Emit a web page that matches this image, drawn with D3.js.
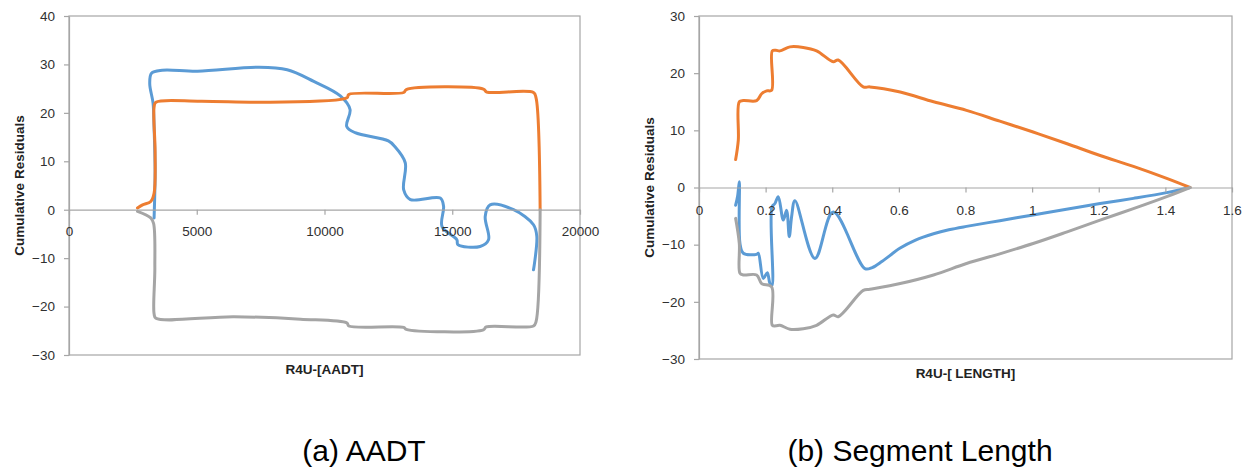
<!DOCTYPE html>
<html>
<head>
<meta charset="utf-8">
<script src="https://cdn.jsdelivr.net/npm/d3@7"></script>
<style>
  body { margin: 0; background: #fff; }
  svg { display: block; }
</style>
</head>
<body>
<div id="my_cure"></div>
<script>

// ======================= //
// DATA
// ======================= //

// (a) AADT panel : [AADT, cumulative residual]
var aadtBlue = [[3330,-1.7],[3370,8],[3330,17],[3290,22],[3160,26],[3230,28.2],[3650,28.8],[5030,28.6],[7370,29.4],[8540,28.9],[9580,26.5],[10620,23.5],[11000,20.7],[10870,17.2],[11200,15.9],[12500,14.2],[12740,13.1],[13160,9.7],[13100,4.1],[13360,2.1],[14530,2.4],[14660,0.7],[14600,-3.5],[15180,-6.2],[15220,-7.2],[16090,-7.6],[16420,-6.2],[16290,-1.4],[16480,1.0],[17400,0],[18180,-3.1],[18310,-5.5],[18180,-12.4]]
var aadtOrange = [[2680,0.35],[2880,1.0],[3200,1.7],[3330,3.4],[3370,12],[3330,21.2],[3400,22.2],[5160,22.4],[7760,22.2],[10880,23.1],[10950,23.8],[13100,24.2],[13200,24.8],[16220,24.9],[16350,24.3],[18180,24.2],[18280,23.1],[18440,0]]
var aadtGray = [[2680,-0.35],[3200,-1.7],[3310,-2.8],[3360,-12],[3330,-21.5],[3400,-22.4],[6460,-22.1],[9060,-22.6],[10880,-23.4],[10950,-24.0],[13100,-24.3],[13200,-24.7],[16220,-24.8],[16330,-24.2],[18180,-24.0],[18280,-23.1],[18440,0]]

// (b) Segment length panel : [length, cumulative residual]
var lenBlue = [[0.110,-3.1],[0.116,-1.5],[0.121,1.0],[0.123,-9.8],[0.133,-11.5],[0.173,-11.7],[0.178,-11.5],[0.193,-15.9],[0.205,-14.9],[0.213,-16.8],[0.219,-17.1],[0.219,-3.4],[0.228,-2.8],[0.238,-1.6],[0.253,-5.7],[0.263,-4.0],[0.271,-8.6],[0.278,-5.1],[0.288,-2.3],[0.348,-12.4],[0.403,-4.3],[0.498,-14.2],[0.52,-14.0],[0.55,-12.9],[0.604,-10.6],[0.65,-9.2],[0.704,-8.1],[0.75,-7.4],[0.803,-6.8],[0.903,-5.8],[1.003,-4.8],[1.103,-3.8],[1.204,-2.8],[1.304,-1.9],[1.404,-0.9],[1.474,0]]
var lenOrange = [[0.110,4.9],[0.118,8.3],[0.121,15.0],[0.133,15.2],[0.173,15.2],[0.188,16.4],[0.203,16.9],[0.218,17.0],[0.220,23.9],[0.231,24.0],[0.243,23.9],[0.273,24.6],[0.313,24.5],[0.353,23.9],[0.403,22.0],[0.418,22.3],[0.493,17.6],[0.513,17.6],[0.604,16.7],[0.704,15.0],[0.803,13.5],[0.903,11.6],[1.003,9.7],[1.103,7.7],[1.204,5.6],[1.304,3.7],[1.404,1.6],[1.474,0]]
var lenGray = [[0.110,-5.4],[0.121,-9.8],[0.123,-15.0],[0.133,-15.3],[0.173,-15.3],[0.188,-16.8],[0.218,-17.4],[0.220,-24.1],[0.231,-24.2],[0.243,-24.1],[0.273,-24.8],[0.313,-24.7],[0.353,-24.1],[0.403,-22.3],[0.418,-22.6],[0.493,-18.0],[0.513,-17.8],[0.604,-16.8],[0.704,-15.3],[0.803,-13.3],[0.903,-11.6],[1.003,-9.8],[1.103,-7.8],[1.204,-5.7],[1.304,-3.7],[1.404,-1.6],[1.474,0]]

// tick labels
var aadtXTicks = [0, 5000, 10000, 15000, 20000]
var aadtYTicks = [-30, -20, -10, 0, 10, 20, 30, 40]
var lenXTicks = [0, 0.2, 0.4, 0.6, 0.8, 1, 1.2, 1.4, 1.6]
var lenYTicks = [-30, -20, -10, 0, 10, 20, 30]

var seriesColors = ["#5b9bd5", "#ed7d31", "#a5a5a5"]


// ======================= //
// SVG AREA
// ======================= //

var svg = d3.select("#my_cure")
  .append("svg")
    .attr("width", 1249)
    .attr("height", 468)


// ======================= //
// ONE PANEL
// ======================= //

function plotPanel(p){

  var x = d3.scaleLinear().domain(p.xDomain).range([p.left, p.right])
  var y = d3.scaleLinear().domain(p.yDomain).range([p.bottom, p.top])
  var g = svg.append("g")

  // plot area border
  g.append("rect")
    .attr("x", p.left)
    .attr("y", p.top)
    .attr("width", p.right - p.left)
    .attr("height", p.bottom - p.top)
    .style("fill", "none")
    .style("stroke", "#a6a6a6")
    .style("stroke-width", 1.2)

  // Y axis
  var yAxis = g.append("g")
    .attr("transform", "translate(" + p.left + ",0)")
    .call(d3.axisLeft(y).tickValues(p.yTicks).tickSize(5).tickSizeOuter(0).tickPadding(9))
  yAxis.select(".domain").style("stroke", "#a6a6a6").style("stroke-width", 1.2)
  yAxis.selectAll(".tick line").style("stroke", "#a6a6a6").style("stroke-width", 1.2)
  yAxis.selectAll("text")
    .style("font-family", "'Liberation Sans', Arial, sans-serif")
    .style("font-size", "13.5px")
    .style("fill", "#303030")

  // lines (blue, orange, gray)
  var line = d3.line()
    .x(function(d){ return x(d[0]) })
    .y(function(d){ return y(d[1]) })
    .curve(d3.curveCatmullRom.alpha(0.5))

  g.selectAll("mylines")
    .data(p.series)
    .enter()
    .append("path")
      .attr("d", function(d){ return line(d) })
      .style("fill", "none")
      .style("stroke", function(d,i){ return seriesColors[i] })
      .style("stroke-width", 3)
      .style("stroke-linejoin", "round")
      .style("stroke-linecap", "round")

  // X axis on the zero line
  var xAxis = g.append("g")
    .attr("transform", "translate(0," + y(0) + ")")
    .call(d3.axisBottom(x).tickValues(p.xTicks).tickSize(5).tickSizeOuter(0).tickPadding(p.xPad).tickFormat(p.xFormat))
  xAxis.select(".domain").style("stroke", "#a6a6a6").style("stroke-width", 1.2)
  xAxis.selectAll(".tick line").style("stroke", "#a6a6a6").style("stroke-width", 1.2)
  xAxis.selectAll("text")
    .style("font-family", "'Liberation Sans', Arial, sans-serif")
    .style("font-size", "13.5px")
    .style("fill", "#303030")

  // axis titles
  g.append("text")
    .attr("x", (p.left + p.right) / 2)
    .attr("y", p.xTitleY)
    .attr("text-anchor", "middle")
    .style("font-family", "'Liberation Sans', Arial, sans-serif")
    .style("font-weight", "bold")
    .style("font-size", "13.5px")
    .style("fill", "#222")
    .text(p.xTitle)

  g.append("text")
    .attr("transform", "translate(" + p.yTitleX + "," + (p.top + p.bottom) / 2 + ") rotate(-90)")
    .attr("text-anchor", "middle")
    .attr("dy", "0.35em")
    .style("font-family", "'Liberation Sans', Arial, sans-serif")
    .style("font-weight", "bold")
    .style("font-size", "13.5px")
    .style("fill", "#222")
    .text("Cumulative Residuals")

  // caption
  g.append("text")
    .attr("x", p.captionX)
    .attr("y", 461)
    .attr("text-anchor", "middle")
    .style("font-family", "'Liberation Sans', Arial, sans-serif")
    .style("font-size", "30px")
    .style("fill", "#000")
    .text(p.caption)
}

plotPanel({
  left: 69, right: 580, top: 16, bottom: 355,
  xDomain: [0, 20000], yDomain: [-30, 40],
  xTicks: aadtXTicks, yTicks: aadtYTicks,
  xFormat: d3.format("d"), xPad: 12,
  series: [aadtBlue, aadtOrange, aadtGray],
  xTitle: "R4U-[AADT]", xTitleY: 374, yTitleX: 19,
  caption: "(a) AADT", captionX: 364
})

plotPanel({
  left: 699, right: 1232, top: 16, bottom: 359,
  xDomain: [0, 1.6], yDomain: [-30, 30],
  xTicks: lenXTicks, yTicks: lenYTicks,
  xFormat: function(d){ return String(+d.toFixed(1)) }, xPad: 13,
  series: [lenBlue, lenOrange, lenGray],
  xTitle: "R4U-[ LENGTH]", xTitleY: 378, yTitleX: 649,
  caption: "(b) Segment Length", captionX: 920
})

</script>
</body>
</html>
